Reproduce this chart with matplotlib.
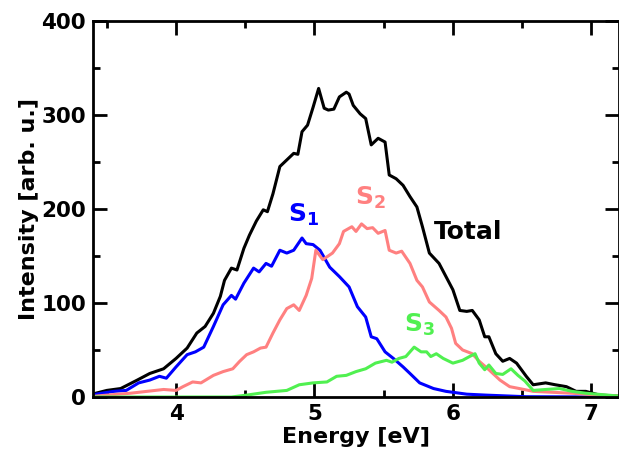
import matplotlib
matplotlib.use("Agg")
import matplotlib.pyplot as plt
from matplotlib.ticker import MultipleLocator

# energies [eV] and intensities [arb. u.]
e_total = [3.40, 3.42, 3.50, 3.60, 3.72, 3.81, 3.91, 4.00, 4.08, 4.15, 4.21, 4.27,
           4.32, 4.35, 4.40, 4.44, 4.49, 4.53, 4.58, 4.63, 4.66, 4.70, 4.75, 4.80,
           4.85, 4.88, 4.91, 4.95, 4.99, 5.03, 5.07, 5.10, 5.14, 5.18, 5.23, 5.25,
           5.28, 5.33, 5.37, 5.41, 5.46, 5.51, 5.54, 5.59, 5.64, 5.69, 5.74, 5.78,
           5.83, 5.90, 5.95, 6.00, 6.05, 6.10, 6.14, 6.19, 6.23, 6.26, 6.31, 6.36,
           6.41, 6.46, 6.53, 6.58, 6.67, 6.74, 6.82, 6.89, 6.96, 7.06, 7.20]
i_total = [2, 4, 7, 9, 18, 25, 30, 41, 52, 68, 75, 89,
           107, 124, 137, 135, 158, 172, 187, 199, 197, 216, 245, 252,
           259, 258, 282, 289, 308, 328, 307, 305, 306, 319, 324, 322,
           310, 301, 296, 268, 275, 271, 236, 232, 225, 213, 202, 181,
           153, 142, 128, 114, 92, 91, 92, 82, 64, 64, 46, 38,
           41, 36, 22, 13, 15, 13, 11, 6, 6, 2, 1]

e_s1 = [3.40, 3.42, 3.55, 3.64, 3.73, 3.81, 3.88, 3.93, 4.00, 4.08, 4.14, 4.20,
        4.27, 4.34, 4.40, 4.43, 4.49, 4.56, 4.60, 4.65, 4.69, 4.75, 4.80, 4.85,
        4.91, 4.94, 4.99, 5.04, 5.11, 5.18, 5.25, 5.31, 5.37, 5.41, 5.45, 5.51,
        5.57, 5.64, 5.69, 5.76, 5.86, 5.95, 6.10, 6.24, 6.53, 7.20]
i_s1 = [2, 3, 6, 7, 15, 18, 22, 20, 32, 45, 48, 53,
        75, 98, 108, 104, 121, 137, 133, 142, 139, 156, 153, 156,
        169, 163, 162, 156, 138, 128, 117, 96, 85, 64, 62, 48,
        41, 32, 25, 15, 9, 6, 3, 2, 0.3, 0]

e_s2 = [3.40, 3.42, 3.67, 3.79, 3.91, 4.00, 4.05, 4.12, 4.18, 4.27, 4.34, 4.41,
        4.46, 4.51, 4.56, 4.61, 4.65, 4.70, 4.75, 4.80, 4.85, 4.89, 4.94, 4.98,
        5.01, 5.06, 5.13, 5.18, 5.21, 5.27, 5.30, 5.34, 5.38, 5.42, 5.46, 5.51,
        5.54, 5.59, 5.63, 5.69, 5.74, 5.78, 5.83, 5.90, 5.95, 5.99, 6.02, 6.07,
        6.14, 6.19, 6.26, 6.34, 6.41, 6.48, 6.58, 6.72, 6.86, 7.06, 7.20]
i_s2 = [0, 1, 4, 6, 8, 7, 11, 16, 15, 23, 27, 30,
        38, 45, 48, 52, 53, 68, 82, 94, 98, 92, 108, 126,
        156, 146, 153, 163, 176, 181, 176, 184, 179, 180, 174, 177,
        156, 153, 155, 142, 124, 117, 101, 92, 85, 73, 57, 50,
        46, 38, 29, 18, 11, 9, 6, 5, 4, 2, 1]

e_s3 = [3.40, 4.40, 4.51, 4.65, 4.80, 4.89, 4.99, 5.09, 5.16, 5.23, 5.30, 5.37,
        5.44, 5.52, 5.56, 5.61, 5.66, 5.72, 5.77, 5.81, 5.84, 5.88, 5.93, 6.00,
        6.07, 6.12, 6.16, 6.19, 6.23, 6.26, 6.31, 6.36, 6.42, 6.47, 6.52, 6.58,
        6.67, 6.77, 6.86, 6.96, 7.20]
i_s3 = [0, 0, 2, 5, 7, 13, 15, 16, 22, 23, 27, 30,
        36, 39, 37, 41, 43, 53, 48, 48, 43, 46, 41, 36,
        39, 43, 46, 36, 29, 34, 25, 24, 30, 23, 17, 7,
        8, 9, 6, 4, 1]

BLUE = "#0000ff"
PINK = "#ff8080"
GREEN = "#50f050"

plt.rcParams["font.family"] = "DejaVu Sans"
plt.rcParams["font.weight"] = "bold"
plt.rcParams["mathtext.fontset"] = "dejavusans"
plt.rcParams["mathtext.default"] = "bf"

fig = plt.figure(figsize=(6.19, 4.54), dpi=100)
ax = fig.add_axes([93 / 619, 57 / 454, 526 / 619, 376.3 / 454])

lw = 2.2
style = dict(lw=lw, solid_joinstyle="round", solid_capstyle="round")
ax.plot(e_total, i_total, color="black", **style)
ax.plot(e_s1, i_s1, color=BLUE, **style)
ax.plot(e_s2, i_s2, color=PINK, **style)
ax.plot(e_s3, i_s3, color=GREEN, **style)

ax.set_xlim(3.4, 7.2)
ax.set_ylim(0, 400)
ax.xaxis.set_major_locator(MultipleLocator(1))
ax.xaxis.set_minor_locator(MultipleLocator(0.5))
ax.yaxis.set_major_locator(MultipleLocator(100))
ax.yaxis.set_minor_locator(MultipleLocator(50))
ax.tick_params(which="both", direction="in", top=True, right=True, width=2)
ax.tick_params(which="major", length=10, labelsize=15.5, pad=5)
ax.tick_params(which="minor", length=5)
for s in ax.spines.values():
    s.set_linewidth(2)

ax.set_xlabel("Energy [eV]", fontsize=16, fontweight="bold", labelpad=2)
ax.set_ylabel("Intensity [arb. u.]", fontsize=16, fontweight="bold", labelpad=2)

fs = 18
ax.text(4.81, 186, r"$\mathbf{S_1}$", color=BLUE, fontsize=fs, va="baseline")
ax.text(5.29, 204, r"$\mathbf{S_2}$", color=PINK, fontsize=fs, va="baseline")
ax.text(5.65, 69, r"$\mathbf{S_3}$", color=GREEN, fontsize=fs, va="baseline")
ax.text(5.86, 168, "Total", color="black", fontsize=fs, fontweight="bold", va="baseline")

fig.savefig("out.png", dpi=100)
